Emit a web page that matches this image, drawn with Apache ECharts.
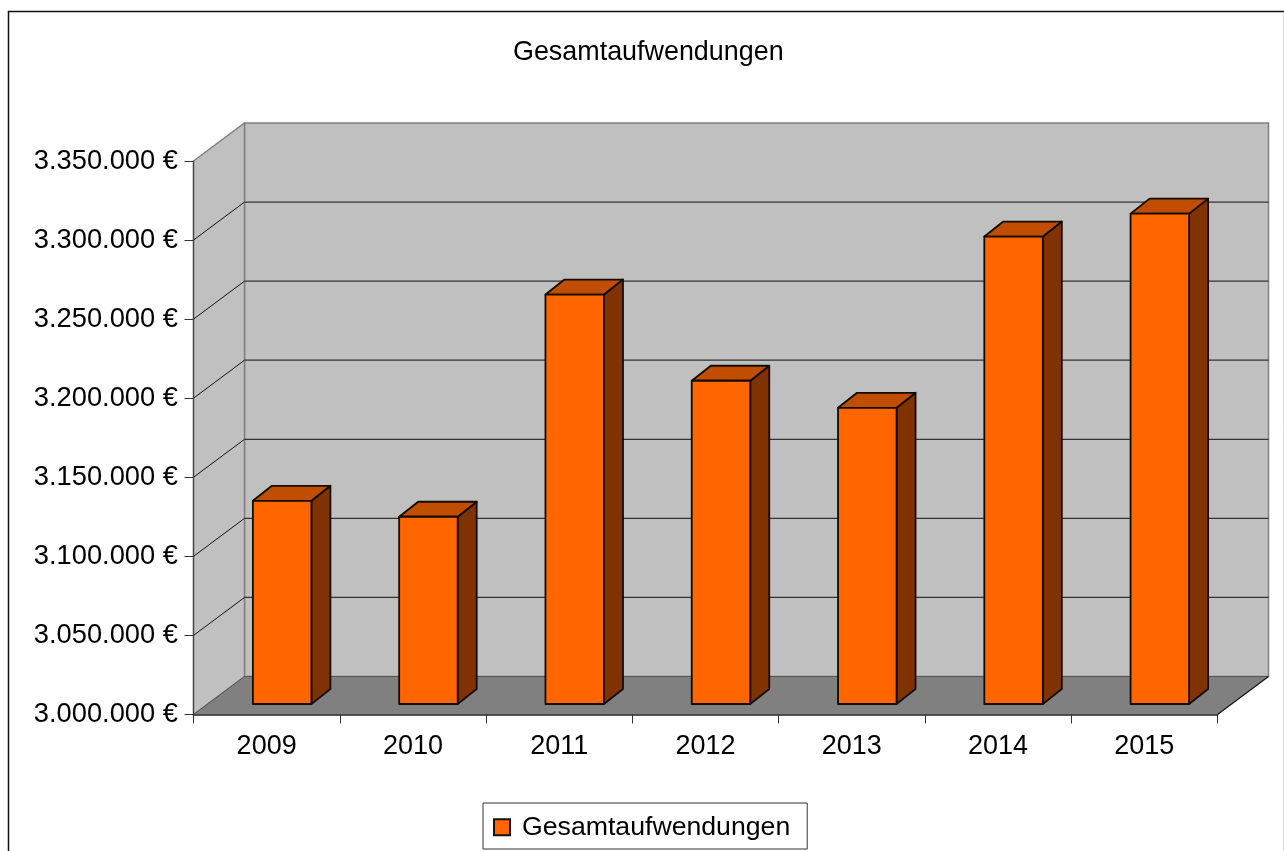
<!DOCTYPE html>
<html><head><meta charset="utf-8">
<style>html,body{margin:0;padding:0;background:#fff;overflow:hidden}#c{width:1284px;height:851px}</style>
<script src="https://cdn.jsdelivr.net/npm/echarts@6/dist/echarts.min.js"></script>
</head><body><div id="c"></div>
<script>
const years = ['2009','2010','2011','2012','2013','2014','2015'];
const totals = [3128500,3118400,3258900,3204400,3187300,3295600,3310100];
const axisMin = 3000000, axisMax = 3350000, axisStep = 50000;
const seriesName = 'Gesamtaufwendungen';
const FONT = '"Liberation Sans", Arial, sans-serif';
const WALL_DX = 51, WALL_DY = 38;      // depth of the box
const BAR_DX = 19, BAR_DY = 15;        // depth of one bar
const BAR_SHIFT_X = 15.5, BAR_SHIFT_Y = 10.5; // bars stand inside the floor
const BAR_WIDTH_RATIO = 0.4;

const chart = echarts.init(document.getElementById('c'), null, {renderer:'canvas'});

function renderWalls(params, api){
  const cs = params.coordSys;
  const L = cs.x, R = cs.x + cs.width, B = cs.y + cs.height, T = cs.y;
  const dx = WALL_DX, dy = WALL_DY;
  const kids = [];
  kids.push({type:'polygon',shape:{points:[[L+dx,T-dy],[R+dx,T-dy],[R+dx,B-dy],[L+dx,B-dy]]},
    style:{fill:'#c0c0c0',stroke:'#808080',lineWidth:1.5}});
  kids.push({type:'polygon',shape:{points:[[L,T],[L+dx,T-dy],[L+dx,B-dy],[L,B]]},
    style:{fill:'#c0c0c0',stroke:'#808080',lineWidth:1.5}});
  kids.push({type:'polygon',shape:{points:[[L,B],[L+dx,B-dy],[R+dx,B-dy],[R,B]]},
    style:{fill:'#808080',stroke:null}});
  for(let v = axisMin + axisStep; v < axisMax; v += axisStep){
    const y = api.coord([0,v])[1];
    kids.push({type:'line',shape:{x1:L,y1:y,x2:L+dx,y2:y-dy},style:{stroke:'#111',lineWidth:1}});
    kids.push({type:'line',shape:{x1:L+dx,y1:y-dy,x2:R+dx,y2:y-dy},style:{stroke:'#333',lineWidth:1.2}});
  }
  kids.push({type:'line',shape:{x1:L+dx,y1:B-dy,x2:R+dx,y2:B-dy},style:{stroke:'#555',lineWidth:1.2}});
  kids.push({type:'line',shape:{x1:R,y1:B,x2:R+dx,y2:B-dy},style:{stroke:'#111',lineWidth:1.2}});
  kids.push({type:'line',shape:{x1:L,y1:B,x2:L+dx,y2:B-dy},style:{stroke:'#555',lineWidth:1}});
  return {type:'group',children:kids};
}

function renderBar(params, api){
  const i = api.value(0), val = api.value(1);
  const top = api.coord([i,val]), base = api.coord([i,axisMin]);
  const w = api.size([1,0])[0] * BAR_WIDTH_RATIO;
  const x0 = top[0] + BAR_SHIFT_X - w/2, x1 = x0 + w;
  const yT = top[1] - BAR_SHIFT_Y, yB = base[1] - BAR_SHIFT_Y;
  const dx = BAR_DX, dy = BAR_DY;
  const line = {stroke:'#120c06',lineWidth:1.8,lineJoin:'round'};
  return {type:'group',children:[
    {type:'polygon',shape:{points:[[x1,yT],[x1+dx,yT-dy],[x1+dx,yB-dy],[x1,yB]]},style:{fill:'#803300',...line}},
    {type:'polygon',shape:{points:[[x0,yT],[x0+dx,yT-dy],[x1+dx,yT-dy],[x1,yT]]},style:{fill:'#c04d00',...line}},
    {type:'polygon',shape:{points:[[x0,yT],[x1,yT],[x1,yB],[x0,yB]]},style:{fill:'#ff6600',...line}}
  ]};
}

chart.setOption({
  animation:false,
  backgroundColor:'#fff',
  title:{text:seriesName,left:513,top:39.5,padding:0,
    textStyle:{fontFamily:FONT,fontSize:26.9,fontWeight:'normal',color:'#000'}},
  legend:{data:[{name:seriesName,icon:'rect'}],left:483,top:803,orient:'horizontal',
    padding:[10.8,17,8.2,10],backgroundColor:'#fff',borderColor:'#333',borderWidth:1,
    itemWidth:16,itemHeight:16,selectedMode:false,
    textStyle:{fontFamily:FONT,fontSize:26.67,color:'#000',padding:[0,0,0,7]}},
  grid:{left:193.5,top:161,width:1024,height:553.5,show:false},
  xAxis:{type:'category',data:years,boundaryGap:true,z:5,
    axisLine:{show:true,lineStyle:{color:'#222',width:1.5}},
    axisTick:{show:true,length:9,alignWithLabel:false,lineStyle:{color:'#333',width:1}},
    axisLabel:{fontFamily:FONT,fontSize:27,color:'#000',margin:19},
    splitLine:{show:false}},
  yAxis:{type:'value',min:axisMin,max:axisMax,interval:axisStep,z:5,
    axisLine:{show:true,lineStyle:{color:'#444',width:1.2}},
    axisTick:{show:true,length:9,lineStyle:{color:'#333',width:1}},
    axisLabel:{fontFamily:FONT,fontSize:27.3,color:'#000',margin:15.5,
      formatter:v=>String(v).replace(/\B(?=(\d{3})+$)/g,'.')+' €'},
    splitLine:{show:false}},
  series:[
    {type:'custom',name:'walls',coordinateSystem:'cartesian2d',data:[[0,axisMin]],
      renderItem:renderWalls,silent:true,z:1,clip:false},
    {type:'custom',name:seriesName,coordinateSystem:'cartesian2d',
      data:totals.map((v,i)=>[i,v]),renderItem:renderBar,z:10,clip:false,
      itemStyle:{color:'#ff6600',borderColor:'#1a1108',borderWidth:1.2},
      encode:{x:0,y:1}}
  ],
  graphic:[
    {type:'rect',z:-10,silent:true,shape:{x:8.5,y:11.5,width:1400,height:1000},style:{fill:'#fff',stroke:'#111',lineWidth:1.5}},
    {type:'line',z:-9,silent:true,shape:{x1:1283.5,y1:12,x2:1283.5,y2:851},style:{stroke:'#dddddd',lineWidth:1}}
  ]
});
</script></body></html>
